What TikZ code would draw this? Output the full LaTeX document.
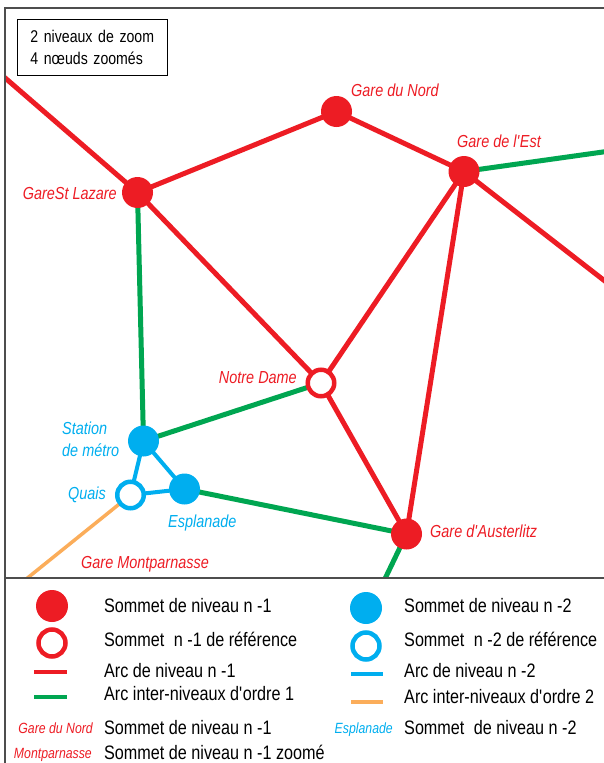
\documentclass[tikz,border=0pt]{standalone}
\usepackage{fontspec}
\setmainfont{Liberation Sans}[FakeStretch=0.83]
\usetikzlibrary{backgrounds}
\definecolor{mred}{HTML}{ED1C24}
\definecolor{mgreen}{HTML}{00A651}
\definecolor{mblue}{HTML}{00AEEF}
\definecolor{morange}{HTML}{FBAD5A}
\definecolor{framegray}{HTML}{4D4D4D}
\newcommand\apos{\textquotesingle}
\begin{document}
\begin{tikzpicture}[x=1pt,y=-1pt,
  redline/.style={mred, line width=5pt},
  greenline/.style={mgreen, line width=5pt},
  blueline/.style={mblue, line width=4pt},
  orangeline/.style={morange, line width=3.5pt},
  rednode/.style={circle, fill=mred, minimum size=31pt, inner sep=0pt},
  redref/.style={circle, draw=mred, line width=4.5pt, fill=white, minimum size=26.5pt, inner sep=0pt},
  bluenode/.style={circle, fill=mblue, minimum size=31pt, inner sep=0pt},
  blueref/.style={circle, draw=mblue, line width=4.5pt, fill=white, minimum size=26.5pt, inner sep=0pt},
  redlbl/.style={text=mred, font=\fontsize{17.4}{17.4}\selectfont\itshape, inner sep=0pt},
  bluelbl/.style={text=mblue, font=\fontsize{17.4}{22}\selectfont\itshape, inner sep=0pt},
  legtxt/.style={font=\fontsize{19.5}{19.5}\selectfont, inner sep=0pt, anchor=base west},
  legred/.style={text=mred, font=\fontsize{14.8}{14.8}\selectfont\itshape, inner sep=0pt, anchor=base east},
  legblue/.style={text=mblue, font=\fontsize{14.8}{14.8}\selectfont\itshape, inner sep=0pt, anchor=base east},
  framel/.style={draw=framegray, line width=1.5pt},
  infobox/.style={draw=black, line width=0.8pt, align=left, anchor=north west, minimum width=150pt, minimum height=56pt, text width=124pt, inner xsep=13pt, inner ysep=0pt, font=\fontsize{17}{22}\selectfont}
]
\useasboundingbox (0,0) rectangle (604,763);

% frame
\draw[framel] (5,763) -- (5,8) -- (604,8);
\draw[framel] (5,578) -- (604,578);

% info box
\node[infobox] (info) at (17,19) {2 niveaux de zoom\\4 nœuds zoomés};

% map nodes
\node[rednode] (lazare) at (137.5,192.5) {};
\node[rednode] (nord) at (336.5,111.5) {};
\node[rednode] (est) at (464,171.5) {};
\node[redref] (notre) at (321,383) {};
\node[rednode] (aust) at (406.5,534) {};
\node[bluenode] (metro) at (143.5,441) {};
\node[blueref] (quais) at (130.5,495) {};
\node[bluenode] (espl) at (184.5,489) {};

\coordinate (tl) at (0,73.5);
\coordinate (er) at (610,151);
\coordinate (rr) at (610,285);
\coordinate (ab) at (382,585);
\coordinate (ob) at (20,584);

\begin{scope}[on background layer]
  \clip (5,8) rectangle (604,578);
  \draw[redline] (tl) -- (lazare.center);
  \draw[redline] (lazare.center) -- (nord.center);
  \draw[redline] (nord.center) -- (est.center);
  \draw[redline] (lazare.center) -- (notre.center);
  \draw[redline] (notre.center) -- (est.center);
  \draw[redline] (notre.center) -- (aust.center);
  \draw[redline] (est.center) -- (aust.center);
  \draw[redline] (est.center) -- (rr);
  \draw[greenline] (lazare.center) -- (metro.center);
  \draw[greenline] (metro.center) -- (notre.center);
  \draw[greenline] (espl.center) -- (aust.center);
  \draw[greenline] (est.center) -- (er);
  \draw[greenline] (aust.center) -- (ab);
  \draw[blueline] (metro.center) -- (quais.center);
  \draw[blueline] (metro.center) -- (espl.center);
  \draw[blueline] (quais.center) -- (espl.center);
  \draw[orangeline] (quais.center) -- (ob);
\end{scope}

% map labels
\node[redlbl, anchor=base west] (lnord) at (351,96) {Gare du Nord};
\node[redlbl, anchor=base west] (lest) at (457,147) {Gare de l\apos Est};
\node[redlbl, anchor=base east] (llaz) at (117,199) {GareSt Lazare};
\node[redlbl, anchor=base east] (lnotre) at (297,383) {Notre Dame};
\node[redlbl, anchor=base west] (laust) at (430,537) {Gare d\apos Austerlitz};
\node[redlbl, anchor=base west] (lmont) at (81,568) {Gare Montparnasse};
\node[bluelbl, align=left, anchor=north west] (lmetro) at (62,422) {Station\\de métro};
\node[bluelbl, anchor=base east] (lquais) at (106,499) {Quais};
\node[bluelbl, anchor=base west] (lespl) at (168,527) {Esplanade};

% legend left
\node[rednode, minimum size=32pt] (k1) at (52,606) {};
\node[redref, minimum size=27pt] (k2) at (52,643) {};
\coordinate (k3a) at (34,672); \coordinate (k3b) at (67,672);
\coordinate (k4a) at (34,697); \coordinate (k4b) at (67,697);
\draw[mred, line width=4.5pt] (k3a) -- (k3b);
\draw[mgreen, line width=4.5pt] (k4a) -- (k4b);
\node[legtxt] (t1) at (104,612) {Sommet de niveau n -1};
\node[legtxt] (t2) at (104,646) {Sommet\hspace{5pt} n -1 de référence};
\node[legtxt] (t3) at (104,677) {Arc de niveau n -1};
\node[legtxt] (t4) at (104,700) {Arc inter-niveaux d\apos ordre 1};
\node[legtxt] (t5) at (104,734) {Sommet de niveau n -1};
\node[legtxt] (t6) at (104,759) {Sommet de niveau n -1 zoomé};
\node[legred] (t5l) at (93,733) {Gare du Nord};
\node[legred] (t6l) at (92,758) {Montparnasse};

% legend right
\node[bluenode, minimum size=32pt] (b1) at (366,608) {};
\node[blueref, minimum size=27pt] (b2) at (366,646) {};
\coordinate (b3a) at (351,674); \coordinate (b3b) at (383,674);
\coordinate (b4a) at (351,702); \coordinate (b4b) at (383,702);
\draw[mblue, line width=4.5pt] (b3a) -- (b3b);
\draw[morange, line width=4.5pt] (b4a) -- (b4b);
\node[legtxt] (u1) at (404,612) {Sommet de niveau n -2};
\node[legtxt] (u2) at (404,646) {Sommet\hspace{5pt} n -2 de référence};
\node[legtxt] (u3) at (404,677) {Arc de niveau n -2};
\node[legtxt] (u4) at (404,703) {Arc inter-niveaux d\apos ordre 2};
\node[legtxt] (u5) at (404,734) {Sommet\hspace{5pt} de niveau n -2};
\node[legblue] (u5l) at (393,733) {Esplanade};
\end{tikzpicture}
\end{document}
